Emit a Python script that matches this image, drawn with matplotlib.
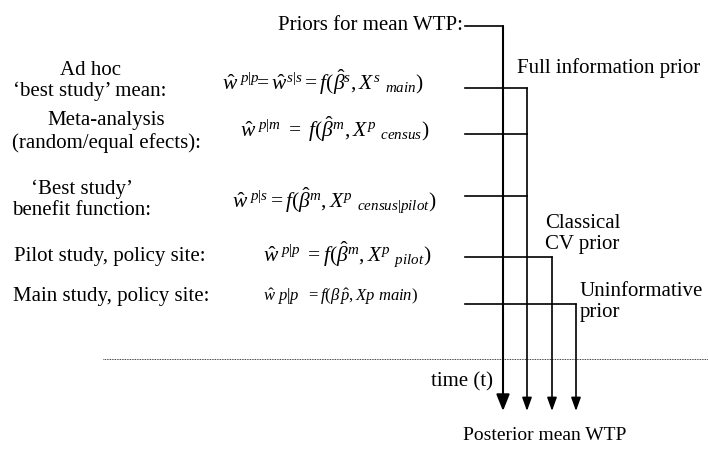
import matplotlib
matplotlib.use("Agg")
import matplotlib.pyplot as plt

plt.rcParams["font.family"] = ["Liberation Serif", "DejaVu Serif"]
plt.rcParams["mathtext.fontset"] = "custom"
plt.rcParams["mathtext.rm"] = "Liberation Serif"
plt.rcParams["mathtext.it"] = "Liberation Serif:italic"

# Sources of prior information (left column) and their estimators
row_labels = [
    "Ad hoc\n\u2018best study\u2019 mean:",
    "Meta-analysis\n(random/equal efects):",
    "\u2018Best study\u2019\nbenefit function:",
    "Pilot study, policy site:",
    "Main study, policy site:",
]
row_formulas = [
    r"$\hat{w}^{\ p|p}\!\!=\hat{w}^{s|s}=f(\hat{\beta}^{s},X^{s}\ {}_{main})$",
    r"$\hat{w}^{\ p|m}\ =\ f(\hat{\beta}^{m},X^{p}\ {}_{census})$",
    r"$\hat{w}^{\ p|s}=f(\hat{\beta}^{m},X^{p}\ {}_{census|pilot})$",
    r"$\hat{w}^{\ p|p}\ =f(\hat{\beta}^{m},X^{p}\ {}_{pilot})$",
    r"$\hat{w}\ p|p\ \ = f(\beta\,\hat{p},Xp\ main)$",
]
# which prior branch each source feeds into
row_branch = [0, 0, 0, 1, 2]
branch_labels = ["Full information prior", "Classical\nCV prior", "Uninformative\nprior"]

top_label = "Priors for mean WTP:"
time_label = "time (t)"
bottom_label = "Posterior mean WTP"

# layout in pixel coordinates
row_y = [88, 134, 196, 257, 304]
label_pos = [(90, 81), (106, 132), (82, 200), (110, 256), (111, 297)]
formula_pos = [(222, 90), (240, 137), (232, 208), (263, 262), (263, 301)]
formula_size = [15.5, 15.5, 15.5, 15.5, 12]
main_x = 503
branch_x = [527, 552, 576]
branch_label_pos = [(517, 68), (545, 234), (580, 302)]
line_start = 465
top_y = 26
arrow_tip = 411
dotted_y = 359

fig = plt.figure(figsize=(7.08, 4.5), dpi=100)
ax = fig.add_axes([0, 0, 1, 1])
ax.set_xlim(0, 708)
ax.set_ylim(450, 0)
ax.axis("off")

lw = 1.2
fs = 15

# main prior line
ax.plot([line_start, main_x], [top_y, top_y], color="black", lw=lw)
ax.annotate("", xy=(main_x, arrow_tip), xytext=(main_x, top_y),
            arrowprops=dict(arrowstyle="-|>,head_length=1.0,head_width=0.4",
                            color="black", lw=1.5, shrinkA=0, shrinkB=0,
                            mutation_scale=10))
ax.text(line_start - 2, top_y, top_label, ha="right", va="center", fontsize=fs)

# branches
for b, bx in enumerate(branch_x):
    rows = [i for i, rb in enumerate(row_branch) if rb == b]
    start_y = min(row_y[i] for i in rows)
    ax.annotate("", xy=(bx, arrow_tip), xytext=(bx, start_y),
                arrowprops=dict(arrowstyle="-|>,head_length=1.0,head_width=0.36",
                                color="black", lw=lw, shrinkA=0, shrinkB=0,
                                mutation_scale=8))
    for i in rows:
        ax.plot([line_start, bx], [row_y[i], row_y[i]], color="black", lw=lw)
    tx, ty = branch_label_pos[b]
    ax.text(tx, ty, branch_labels[b], ha="left", va="center", fontsize=fs,
            linespacing=1.15)

# row labels and formulas
for i in range(len(row_labels)):
    lx, ly = label_pos[i]
    ax.text(lx, ly, row_labels[i], ha="center", va="center", fontsize=fs,
            linespacing=1.15)
    fx, fy = formula_pos[i]
    ax.text(fx, fy, row_formulas[i], ha="left", va="baseline",
            fontsize=formula_size[i])

# dotted separator
ax.plot([103, 708], [dotted_y, dotted_y], color="black", lw=0.6,
        linestyle=(0, (1, 1)))

ax.text(493, 382, time_label, ha="right", va="center", fontsize=fs)
ax.text(463, 435, bottom_label, ha="left", va="center", fontsize=14)

fig.savefig("out.png", dpi=100)
